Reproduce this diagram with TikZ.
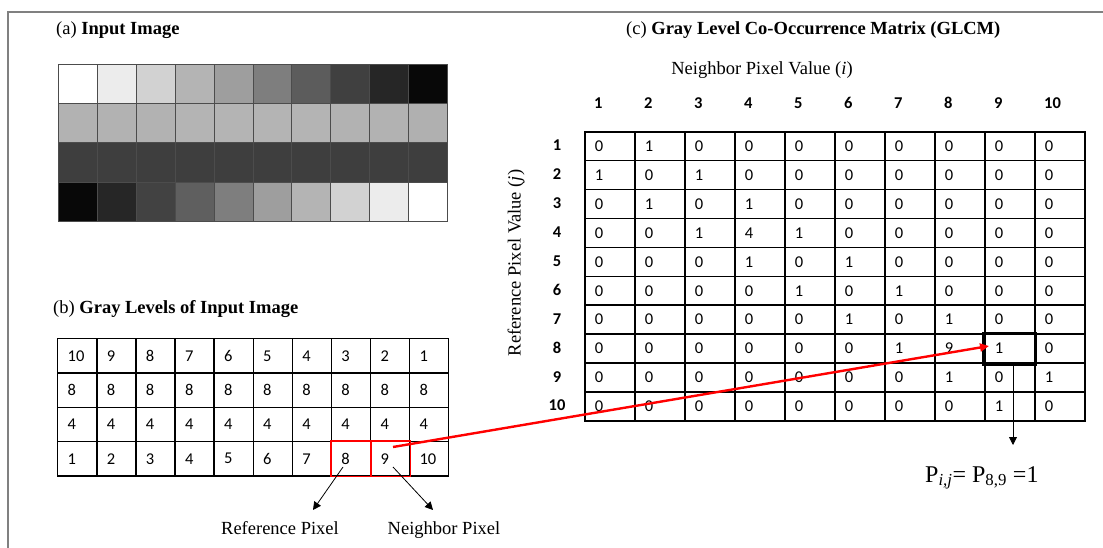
\documentclass[tikz,border=0pt]{standalone}
\usepackage{fontspec}
\setmainfont{Liberation Serif}
\newfontfamily\calfont{Carlito}
\usetikzlibrary{arrows.meta}
\begin{document}
\begin{tikzpicture}[x=1pt,y=-1pt,
  pix/.style={draw=black!70, line width=0.9pt, minimum width=38.9pt, minimum height=39.2pt, inner sep=0pt, anchor=north west},
  bcell/.style={draw, line width=1.4pt, minimum width=39.1pt, minimum height=34.3pt, text width=19.1pt, inner xsep=10pt, inner ysep=0pt, align=left, anchor=north west, font=\calfont\fontsize{16.5}{16.5}\selectfont},
  gcell/.style={draw, line width=1.6pt, minimum width=50pt, minimum height=28.9pt, text width=30pt, inner xsep=10pt, inner ysep=0pt, align=left, anchor=north west, font=\calfont\fontsize{16.5}{16.5}\selectfont},
  hdr/.style={font=\calfont\bfseries\fontsize{16.5}{16.5}\selectfont, inner sep=0pt},
  title/.style={anchor=base west, inner sep=0pt, font=\fontsize{18.5}{18.5}\selectfont},
  lbl/.style={inner sep=0pt, font=\fontsize{18.5}{18.5}\selectfont},
  tip/.style={-{Triangle[length=8pt,width=8pt]}}
]
\useasboundingbox (0,0) rectangle (1103,548);
\fill[white] (0,0) rectangle (1103,548);
% outer frame
\draw[line width=2pt, black!50] (8,548) -- (8,12) -- (1103,12);

% (a) input image
\node[title] (ta) at (56,35) {(a) \textbf{Input Image}};
\foreach \r/\row in {1/{255,236,210,180,158,126,92,64,38,8},
                     2/{178,178,178,180,180,180,180,178,178,176},
                     3/{62,62,62,62,62,62,62,62,62,62},
                     4/{8,38,66,95,126,158,180,210,236,255}}{
  \foreach \v [count=\c] in \row {
    \node[pix, fill={rgb,255:red,\v;green,\v;blue,\v}] (a-\r-\c) at ({58+(\c-1)*38.9},{64+(\r-1)*39.2}) {};
  }
}

% (b) gray levels
\node[title] (tb) at (53,313) {(b) \textbf{Gray Levels of Input Image}};
\foreach \r/\row in {1/{10,9,8,7,6,5,4,3,2,1},
                     2/{8,8,8,8,8,8,8,8,8,8},
                     3/{4,4,4,4,4,4,4,4,4,4},
                     4/{1,2,3,4,5,6,7,8,9,10}}{
  \foreach \v [count=\c] in \row {
    \node[bcell] (b-\r-\c) at ({57+(\c-1)*39.1},{338+(\r-1)*34.3}) {\v};
  }
}
\draw[red, line width=1.6pt] (b-4-8.north west) rectangle (b-4-9.south east);
\draw[red, line width=1.6pt] (b-4-8.north east) -- (b-4-8.south east);

\node[lbl, anchor=base] (refl) at (280,534) {Reference Pixel};
\node[lbl, anchor=base] (neil) at (444,534) {Neighbor Pixel};
\coordinate (refs) at (343,467);
\coordinate (refe) at (313,510);
\coordinate (neis) at (393,467);
\coordinate (neie) at (433,510);
\draw[line width=0.8pt, tip] (refs) -- (refe);
\draw[line width=0.8pt, tip] (neis) -- (neie);

% (c) GLCM
\node[title] (tc) at (626,35) {(c) \textbf{Gray Level Co-Occurrence Matrix (GLCM)}};
\node[lbl] (nlab) at (762,70) {Neighbor Pixel Value (\textit{i})};
\node[lbl, rotate=90] (rlab) at (516,263) {Reference Pixel Value (\textit{j})};
\foreach \c in {1,...,10}{
  \node[hdr, anchor=west] (h-\c) at ({594+(\c-1)*50},103) {\c};
}
\foreach \r/\row in {1/{0,1,0,0,0,0,0,0,0,0},
                     2/{1,0,1,0,0,0,0,0,0,0},
                     3/{0,1,0,1,0,0,0,0,0,0},
                     4/{0,0,1,4,1,0,0,0,0,0},
                     5/{0,0,0,1,0,1,0,0,0,0},
                     6/{0,0,0,0,1,0,1,0,0,0},
                     7/{0,0,0,0,0,1,0,1,0,0},
                     8/{0,0,0,0,0,0,1,9,1,0},
                     9/{0,0,0,0,0,0,0,1,0,1},
                     10/{0,0,0,0,0,0,0,0,1,0}}{
  \node[hdr] (v-\r) at (557,{131+(\r-0.5)*28.9}) {\r};
  \foreach \v [count=\c] in \row {
    \node[gcell] (g-\r-\c) at ({584+(\c-1)*50},{131+(\r-1)*28.9}) {\v};
  }
}
\draw[line width=3.5pt] (g-8-9.north west) rectangle (g-8-9.south east);

% red connector
\coordinate (rs) at (393,447);
\coordinate (rt) at (989,346);
\draw[red, line width=2.4pt, -{Triangle[length=9pt,width=8pt]}] (rs) -- (rt);

% down arrow
\coordinate (ds) at (1013,362);
\coordinate (de) at (1013,445);
\draw[line width=0.8pt, tip] (ds) -- (de);
\node[anchor=base west, inner sep=0pt, font=\fontsize{24}{24}\selectfont] (pval) at (925,482) {P\textsubscript{\textit{i,j}}= P\textsubscript{8,9} =1};
\end{tikzpicture}
\end{document}
